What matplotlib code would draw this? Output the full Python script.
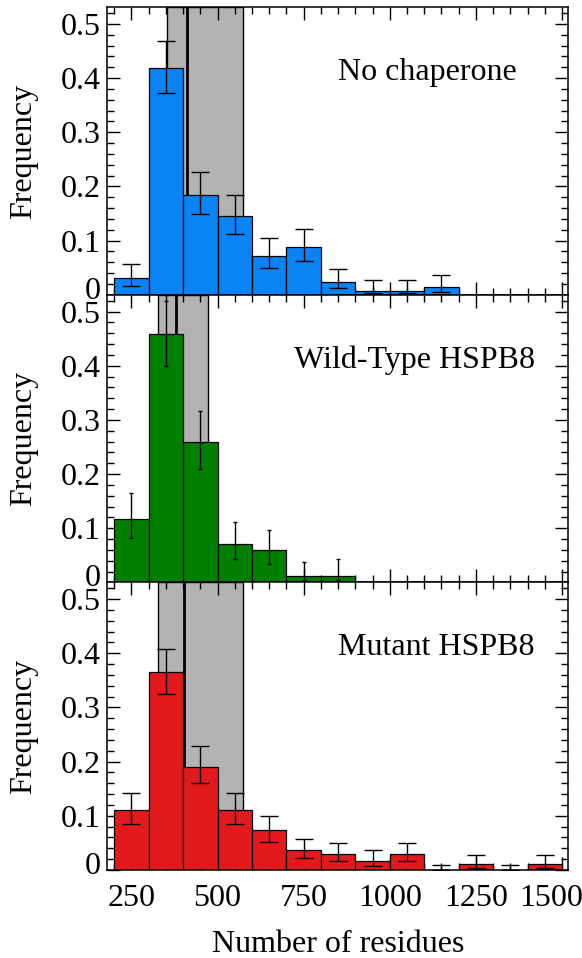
import numpy as np
import matplotlib
matplotlib.use("Agg")
import matplotlib.pyplot as plt
from matplotlib.ticker import MultipleLocator, FuncFormatter
from matplotlib.transforms import ScaledTranslation

plt.rcParams['font.family'] = ['Liberation Serif', 'DejaVu Serif']
plt.rcParams['font.size'] = 23

# ---- data ----
bin_edges = np.arange(200, 1501, 100)
bin_centers = (bin_edges[:-1] + bin_edges[1:]) / 2

nochap_vals = [0.031, 0.419, 0.185, 0.145, 0.072, 0.089, 0.024, 0.007, 0.007, 0.015, 0, 0, 0]
nochap_lo = [0.017, 0.373, 0.150, 0.112, 0.049, 0.063, 0.012, 0.004, 0.004, 0.006, np.nan, np.nan, np.nan]
nochap_hi = [0.057, 0.469, 0.227, 0.185, 0.104, 0.122, 0.048, 0.027, 0.027, 0.037, np.nan, np.nan, np.nan]

wt_vals = [0.117, 0.459, 0.259, 0.071, 0.059, 0.012, 0.012, 0, 0, 0, 0, 0, 0]
wt_lo = [0.082, 0.400, 0.209, 0.043, 0.034, 0.004, 0.004, np.nan, np.nan, np.nan, np.nan, np.nan, np.nan]
wt_hi = [0.165, 0.520, 0.316, 0.112, 0.097, 0.038, 0.043, np.nan, np.nan, np.nan, np.nan, np.nan, np.nan]

mut_vals = [0.110, 0.366, 0.191, 0.110, 0.074, 0.036, 0.029, 0.017, 0.029, 0, 0.011, 0, 0.011]
mut_lo = [0.085, 0.325, 0.160, 0.085, 0.052, 0.022, 0.017, 0.007, 0.017, 0.0, 0.004, 0.0, 0.004]
mut_hi = [0.142, 0.408, 0.228, 0.142, 0.100, 0.058, 0.050, 0.036, 0.050, 0.010, 0.027, 0.010, 0.027]

band_lo = [353, 328, 326]
band_hi = [575, 473, 575]
band_mid = [412, 380, 404]

labels = ["No chaperone", "Wild-Type HSPB8", "Mutant HSPB8"]
colors = ["#0a84f5", "#007f00", "#e31a1c"]
label_x = [0.500, 0.405, 0.500]
capsizes = [6.5, 1.5, 6.5]

panels = [(nochap_vals, nochap_lo, nochap_hi),
          (wt_vals, wt_lo, wt_hi),
          (mut_vals, mut_lo, mut_hi)]

fig = plt.figure(figsize=(5.82, 9.58), dpi=100)
left, width, h = 0.1844, 0.792, 0.3002
bottoms = [0.0919 + 2 * h, 0.0919 + h, 0.0919]

for i, (vals, lo, hi) in enumerate(panels):
    ax = fig.add_axes([left, bottoms[i], width, h])
    vals = np.array(vals, dtype=float)
    lo = np.array(lo, dtype=float)
    hi = np.array(hi, dtype=float)
    ax.axvspan(band_lo[i], band_hi[i], facecolor='#b3b3b3', edgecolor='black',
               linewidth=1.0, zorder=1)
    ax.axvline(band_mid[i], color='black', linewidth=2.0, zorder=1.5)
    ax.bar(bin_centers, vals, width=100, color=colors[i], edgecolor='black',
           linewidth=0.9, zorder=2)
    ax.errorbar(bin_centers, vals, yerr=[vals - lo, hi - vals], fmt='none',
                ecolor='black', elinewidth=1.0, capsize=capsizes[i],
                capthick=1.0, zorder=3)
    ax.set_xlim(180, 1518)
    ax.set_ylim(0, 0.531)
    ax.xaxis.set_major_locator(MultipleLocator(250))
    ax.xaxis.set_minor_locator(MultipleLocator(50))
    ax.yaxis.set_major_locator(MultipleLocator(0.1))
    ax.yaxis.set_minor_locator(MultipleLocator(0.02))
    ax.yaxis.set_major_formatter(FuncFormatter(lambda v, p: "0" if abs(v) < 1e-9 else f"{v:.1f}"))
    ax.tick_params(which='both', direction='in', top=True, right=True, width=1.0)
    ax.tick_params(which='major', length=9.4, labelsize=23, pad=5)
    ax.tick_params(which='minor', length=5)
    ax.tick_params(axis='x', which='major', pad=10)
    for s in ax.spines.values():
        s.set_linewidth(1.1)
    ax.set_ylabel("Frequency", fontsize=23)
    ax.yaxis.set_label_coords(-0.150, 0.5)
    ax.text(label_x[i], 0.747, labels[i], transform=ax.transAxes,
            ha='left', va='baseline', fontsize=23)
    if i < 2:
        ax.tick_params(axis='x', labelbottom=False)
    else:
        ax.set_xlabel("Number of residues", fontsize=23, labelpad=12)
    fig.canvas.draw()
    for t in ax.get_yticklabels():
        if t.get_text() == "0":
            t.set_transform(t.get_transform() + ScaledTranslation(0, 7 / 100, fig.dpi_scale_trans))
    if i == 2:
        for t in ax.get_xticklabels():
            if t.get_text() == "1500":
                t.set_transform(t.get_transform() + ScaledTranslation(-11 / 100, 0, fig.dpi_scale_trans))

fig.savefig("out.png", dpi=100)
